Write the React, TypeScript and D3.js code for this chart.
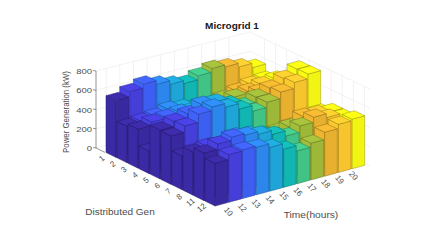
import React from "react";
import * as d3 from "d3";

const timeLabels = ["10", "12", "13", "14", "15", "16", "17", "18", "19", "20"];
const genLabels = ["1", "2", "3", "4", "5", "6", "7", "8", "11", "12"];
const zTicks = [0, 200, 400, 600, 800];
const columnColors = ["#3b2aa5", "#4840df", "#3f62f8", "#2e8af2", "#1fa9dc", "#12bab6", "#43c98a", "#a2bd3a", "#eeb530", "#fdca2e", "#f9fb15"];

const gen1 = [590, 644, 684, 645, 607, 576, 616, 653, 632, 593, 548];
const gen2 = [380, 395, 407, 440, 420, 390, 370, 400, 435, 468, 480];
const gen3 = [406, 440, 450, 465, 450, 420, 430, 468, 490, 520, 538];
const gen4 = [236, 260, 290, 300, 290, 280, 300, 400, 540, 500, 480];
const gen5 = [508, 560, 600, 660, 645, 586, 527, 580, 634, 697, 755];
const gen6 = [503, 568, 653, 688, 649, 590, 530, 583, 650, 711, 759];
const gen7 = [353, 370, 380, 370, 350, 330, 320, 340, 360, 400, 420];
const gen8 = [448, 470, 455, 500, 480, 440, 390, 440, 511, 500, 480];
const gen9 = [494, 549, 582, 565, 536, 495, 440, 505, 557, 517, 480];
const gen10 = [443, 495, 506, 493, 454, 397, 341, 382, 457, 500, 515];
const rows = [gen1, gen2, gen3, gen4, gen5, gen6, gen7, gen8, gen9, gen10];

const tX = d3.scaleLinear().domain([0, 11]).range([0, 150.7]);
const tY = d3.scaleLinear().domain([0, 11]).range([0, -41]);
const dX = d3.scaleLinear().domain([0, 10]).range([0, 110]);
const dY = d3.scaleLinear().domain([0, 10]).range([0, 54]);
const zPx = d3.scaleLinear().domain([0, 800]).range([0, 77]);
const originX = 105;
const originY = 152.4;

function project(t: number, d: number, z: number): [number, number] {
  return [originX + tX(t) + dX(d), originY + tY(t) + dY(d) - zPx(z)];
}
const poly = (pts: [number, number][]) => pts.map((p) => p.join(",")).join(" ");

const wallLeft: [number, number] = [96, 148];
const wallBack: [number, number] = [250, 109];
const wallRight: [number, number] = [370, 166];

const FONT = "'Liberation Sans', Arial, sans-serif";
const gap = 0.04;
const INK = "#4d4d4d";

export default function App() {
  const wallZ = (p: [number, number], z: number): [number, number] => [p[0], p[1] - zPx(z)];
  const bars: React.ReactNode[] = [];
  rows.forEach((row, r) => {
    for (let c = row.length - 1; c >= 0; c--) {
      const v = row[c];
      const t0 = c + gap, t1 = c + 1 - gap, d0 = r + gap, d1 = r + 1 - gap;
      const color = columnColors[c];
      const edge = d3.color(color)!.darker(1.6).formatHex();
      const top = d3.color(color)!.brighter(0.12).formatHex();
      const side = d3.color(color)!.darker(0.08).formatHex();
      bars.push(
        <g key={`${r}-${c}`} stroke={edge} strokeOpacity={0.75} strokeWidth={0.6} strokeLinejoin="round">
          <polygon fill={color} points={poly([project(t0, d0, 0), project(t0, d1, 0), project(t0, d1, v), project(t0, d0, v)])} />
          <polygon fill={side} points={poly([project(t0, d1, 0), project(t1, d1, 0), project(t1, d1, v), project(t0, d1, v)])} />
          <polygon fill={top} points={poly([project(t0, d0, v), project(t0, d1, v), project(t1, d1, v), project(t1, d0, v)])} />
        </g>
      );
    }
  });

  const gridColor = "#ececec";
  const wallLines: React.ReactNode[] = [];
  zTicks.forEach((z) => {
    const a = wallZ(wallLeft, z), b = wallZ(wallBack, z), c = wallZ(wallRight, z);
    wallLines.push(<polyline key={`z${z}`} points={poly([a, b, c])} fill="none" stroke={gridColor} strokeWidth={0.7} />);
  });
  timeLabels.forEach((_, i) => {
    const f = (i + 0.75) / 11.3;
    const x = wallLeft[0] + (wallBack[0] - wallLeft[0]) * f;
    const y = wallLeft[1] + (wallBack[1] - wallLeft[1]) * f;
    wallLines.push(<line key={`t${i}`} x1={x} x2={x} y1={y} y2={y - zPx(800)} stroke={gridColor} strokeWidth={0.7} />);
  });
  genLabels.forEach((_, i) => {
    const f = (i + 0.5) / 10.8;
    const x = wallRight[0] + (wallBack[0] - wallRight[0]) * f;
    const y = wallRight[1] + (wallBack[1] - wallRight[1]) * f;
    wallLines.push(<line key={`d${i}`} x1={x} x2={x} y1={y} y2={y - zPx(800)} stroke={gridColor} strokeWidth={0.7} />);
  });

  return (
    <svg width={439} height={243} style={{ position: "absolute", left: 0, top: 0, background: "#fff" }} fontFamily={FONT}>
      {wallLines}
      <line x1={wallLeft[0]} x2={wallLeft[0]} y1={wallLeft[1]} y2={wallLeft[1] - zPx(800)} stroke="#666" strokeWidth={0.7} />
      <line x1={wallLeft[0]} x2={originX} y1={wallLeft[1]} y2={originY} stroke="#666" strokeWidth={0.7} />
      {zTicks.map((z) => (
        <g key={z}>
          <line x1={wallLeft[0]} x2={wallLeft[0] - 3} y1={wallLeft[1] - zPx(z)} y2={wallLeft[1] - zPx(z) - 0.5} stroke="#666" strokeWidth={0.7} />
          <text transform={`translate(92,${wallLeft[1] - zPx(z) + 3}) scale(1,0.85)`} textAnchor="end" fontSize={9.5} fill={INK}>{z}</text>
        </g>
      ))}
      {bars}
      {genLabels.map((g, i) => {
        const x = 102 + 11.1 * i, y = 159 + 5.45 * i;
        return <text key={g} transform={`translate(${x},${y}) rotate(-40)`} textAnchor="middle" dominantBaseline="middle" fontSize={8} fill={INK}>{g}</text>;
      })}
      {timeLabels.map((g, i) => {
        const x = 228 + 13.9 * i, y = 212 - 4 * i;
        return <text key={g} transform={`translate(${x},${y}) rotate(50)`} textAnchor="middle" dominantBaseline="middle" fontSize={8} fill={INK}>{g}</text>;
      })}
      <text transform="translate(69,112) rotate(-90) scale(0.8,1)" textAnchor="middle" fontSize={9.8} fill={INK}>Power Generation (kW)</text>
      <text transform="translate(120,215) scale(1,0.85)" textAnchor="middle" fontSize={10} fill={INK}>Distributed Gen</text>
      <text transform="translate(311,218) scale(1,0.85)" textAnchor="middle" fontSize={10.2} fill={INK}>Time(hours)</text>
      <text transform="translate(232,29) scale(1,0.85)" textAnchor="middle" fontSize={10} fontWeight="bold" fill="#1a1a1a">Microgrid 1</text>
    </svg>
  );
}
